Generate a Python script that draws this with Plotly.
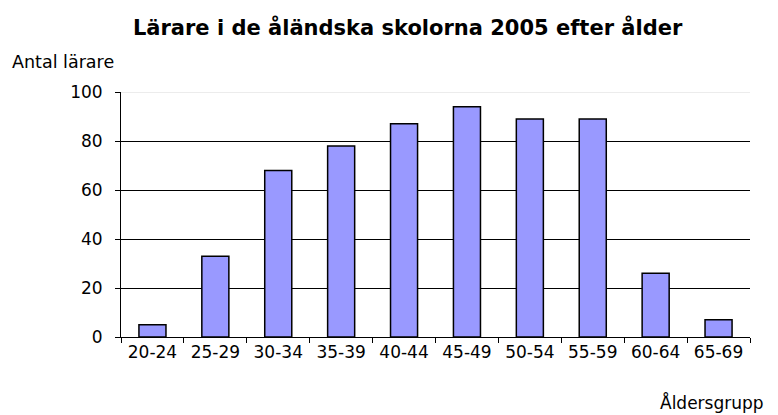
import plotly.graph_objects as go

categories = ["20-24", "25-29", "30-34", "35-39", "40-44", "45-49", "50-54", "55-59", "60-64", "65-69"]
teachers = [5, 33, 68, 78, 87, 94, 89, 89, 26, 7]
y_ticks = [0, 20, 40, 60, 80, 100]

font = "DejaVu Sans, Liberation Sans, Arial, sans-serif"

fig = go.Figure(go.Bar(
    x=categories, y=teachers,
    marker=dict(color="#9999FF", line=dict(color="#000000", width=1.5)),
))

fig.update_layout(
    width=770, height=407,
    margin=dict(l=113, r=28, t=84, b=78),
    paper_bgcolor="white", plot_bgcolor="white",
    bargap=0.57,
    showlegend=False,
    font=dict(family=font, size=17, color="#000000"),
    title=dict(text="<b>Lärare i de åländska skolorna 2005 efter ålder</b>",
               x=0.519, xanchor="center", y=0.951, yanchor="middle",
               font=dict(size=21, family=font)),
    xaxis=dict(showline=True, linecolor="#000000", linewidth=1,
               ticks="outside", tickson="boundaries", ticklen=5, tickcolor="#000000",
               showgrid=False, tickfont=dict(size=17)),
    yaxis=dict(range=[0, 100], tickvals=y_ticks, showline=True, linecolor="#000000",
               linewidth=1, ticks="outside", ticklen=5, tickcolor="#000000",
               ticklabelstandoff=9,
               showgrid=True, gridcolor="#000000", gridwidth=1, zeroline=False,
               tickfont=dict(size=17)),
    shapes=[dict(type="line", xref="paper", yref="y", x0=0, x1=1, y0=100, y1=100,
                 line=dict(color="#d9d9d9", width=1), layer="above")],
    annotations=[
        dict(text="Antal lärare", xref="paper", yref="paper", x=-0.1765, y=1.122,
             xanchor="left", yanchor="middle", showarrow=False, font=dict(size=17.5)),
        dict(text="Åldersgrupp", xref="paper", yref="paper", x=1.025, y=-0.269,
             xanchor="right", yanchor="middle", showarrow=False, font=dict(size=17)),
    ],
)

fig.write_html("out.html")
